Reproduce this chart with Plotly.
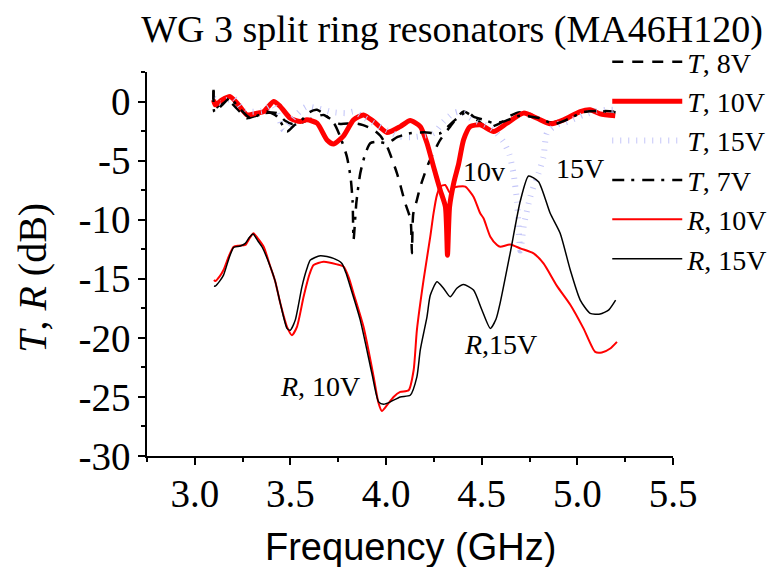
import plotly.graph_objects as go

# Transmission spectra (dB) vs frequency (GHz)
f_t8 = [3.098, 3.103, 3.168, 3.22, 3.272, 3.32, 3.36, 3.43, 3.47, 3.51, 3.551, 3.6, 3.673, 3.72,
        3.76, 3.83, 3.88, 3.935, 3.97, 4.005, 4.057, 4.1, 4.128, 4.135, 4.142, 4.161, 4.179, 4.222,
        4.283, 4.335, 4.405, 4.475, 4.53, 4.597, 4.65, 4.702, 4.76, 4.806, 4.876, 4.963, 5.05,
        5.137, 5.19]
t8 = [0.9, -0.6, 0.14, -0.6, -1.41, -1.2, -0.98, -0.98, -1.6, -1.9, -1.83, -1.5, -1.13, -1.6,
      -1.9, -1.83, -2.0, -2.4, -2.9, -3.81, -6.07, -8.6, -10.0, -12.85, -9.5, -8.33, -7.2, -5.22,
      -3.25, -2.12, -0.85, -1.55, -2.2, -1.83, -1.2, -0.9, -1.1, -1.6, -1.75, -1.27, -0.7, -0.8,
      -0.85]

f_t10 = [3.098, 3.107, 3.142, 3.185, 3.229, 3.273, 3.325, 3.36, 3.412, 3.447, 3.499, 3.551, 3.586,
         3.639, 3.691, 3.725, 3.778, 3.83, 3.882, 3.935, 4.005, 4.074, 4.126, 4.179, 4.214, 4.248,
         4.283, 4.31, 4.321, 4.332, 4.355, 4.379, 4.405, 4.44, 4.492, 4.562, 4.632, 4.719, 4.789,
         4.858, 4.928, 5.015, 5.067, 5.119, 5.198]
t10 = [0.14, -0.28, 0.14, 0.42, -0.28, -1.13, -0.98, -0.85, 0.0, -0.42, -1.41, -1.69, -1.55,
       -1.83, -3.25, -3.6, -2.9, -1.55, -1.13, -1.69, -2.62, -2.12, -1.61, -2.12, -3.53, -5.51,
       -7.5, -8.9, -13.0, -8.9, -6.8, -5.3, -3.25, -2.12, -1.97, -2.54, -1.83, -0.98, -1.41,
       -1.89, -1.55, -0.85, -0.7, -1.04, -1.21]

f_t15 = [3.098, 3.133, 3.2, 3.26, 3.35, 3.41, 3.464, 3.482, 3.52, 3.569, 3.586, 3.65, 3.72, 3.795,
         3.83, 3.88, 3.935, 4.0, 4.074, 4.15, 4.248, 4.301, 4.35, 4.388, 4.457, 4.52, 4.562, 4.614,
         4.645, 4.666, 4.685, 4.702, 4.72, 4.754, 4.771, 4.797, 4.823, 4.841, 4.893, 4.95, 5.032,
         5.1, 5.154, 5.19]
t15 = [0.3, -0.14, 0.3, -0.8, -0.8, -0.3, -2.4, -2.1, -1.3, -0.56, -0.42, -0.6, -0.9, -0.98,
       -0.85, -1.3, -1.83, -2.4, -2.97, -3.0, -2.68, -1.69, -1.0, -0.85, -1.55, -2.0, -2.4, -3.4,
       -4.5, -6.07, -8.5, -12.6, -10.5, -8.05, -7.2, -6.07, -4.66, -2.68, -1.97, -1.7, -1.13,
       -0.8, -0.7, -0.7]

f_t7 = [3.098, 3.103, 3.142, 3.185, 3.229, 3.29, 3.34, 3.377, 3.43, 3.482, 3.52, 3.551, 3.6,
        3.639, 3.691, 3.73, 3.76, 3.795, 3.815, 3.825, 3.83, 3.845, 3.865, 3.89, 3.917, 3.96,
        4.005, 4.06, 4.12, 4.2, 4.283, 4.35, 4.423, 4.457, 4.52, 4.562, 4.614, 4.7, 4.8, 4.88,
        4.95, 5.03, 5.1, 5.2]
t7 = [1.0, -0.9, -0.3, 0.3, -0.5, -1.41, -1.1, -0.85, -1.27, -2.54, -2.0, -1.69, -0.9, -0.7,
      -1.27, -1.9, -2.97, -4.66, -6.5, -8.5, -11.7, -8.5, -6.07, -4.5, -3.53, -3.4, -3.53, -3.0,
      -2.7, -2.6, -2.68, -1.7, -0.85, -1.27, -1.6, -1.83, -1.69, -1.2, -1.4, -1.9, -1.5, -0.9,
      -0.8, -0.9]

# Reflection spectra (dB) vs frequency (GHz)
f_r10 = [3.1, 3.107, 3.13, 3.15, 3.18, 3.203, 3.229, 3.264, 3.285, 3.307, 3.33, 3.36, 3.395, 3.42,
         3.447, 3.482, 3.508, 3.534, 3.569, 3.6, 3.621, 3.673, 3.743, 3.778, 3.805, 3.83, 3.882,
         3.935, 3.96, 3.978, 4.005, 4.039, 4.074, 4.118, 4.144, 4.161, 4.196, 4.231, 4.248, 4.266,
         4.283, 4.309, 4.335, 4.355, 4.379, 4.414, 4.457, 4.492, 4.51, 4.545, 4.58, 4.597, 4.649,
         4.702, 4.771, 4.823, 4.893, 4.963, 5.032, 5.093, 5.128, 5.172, 5.207]
r10 = [-15.1, -15.19, -14.8, -14.26, -13.0, -12.29, -12.2, -12.14, -11.6, -11.15, -11.6, -12.29,
       -13.98, -15.2, -17.08, -19.07, -19.77, -19.07, -16.5, -14.6, -13.84, -13.56, -13.78,
       -13.98, -14.9, -16.24, -19.07, -23.3, -25.5, -26.2, -25.7, -25.0, -24.58, -24.43, -22.74,
       -19.35, -15.1, -11.44, -9.46, -7.9, -7.2, -7.06, -7.76, -7.3, -7.2, -7.2, -8.05, -9.46,
       -9.9, -11.44, -12.14, -12.29, -12.1, -12.43, -12.85, -13.7, -15.6, -17.2, -19.2, -21.19,
       -21.24, -20.9, -20.34]

f_r15 = [3.1, 3.107, 3.13, 3.15, 3.18, 3.203, 3.238, 3.264, 3.285, 3.304, 3.33, 3.351, 3.395, 3.42,
         3.447, 3.482, 3.499, 3.525, 3.56, 3.585, 3.604, 3.656, 3.725, 3.769, 3.79, 3.813, 3.865,
         3.926, 3.961, 3.987, 4.022, 4.074, 4.126, 4.161, 4.179, 4.214, 4.231, 4.266, 4.3, 4.335,
         4.37, 4.405, 4.457, 4.5, 4.545, 4.575, 4.597, 4.649, 4.702, 4.745, 4.797, 4.858, 4.91,
         4.963, 5.015, 5.067, 5.119, 5.163, 5.2]
r15 = [-15.62, -15.62, -15.2, -14.69, -13.2, -12.34, -12.23, -12.0, -11.5, -11.21, -11.8, -12.29,
       -13.98, -15.2, -17.08, -19.2, -19.35, -18.5, -15.68, -14.2, -13.42, -13.05, -13.27, -13.7,
       -14.5, -15.68, -18.5, -23.02, -25.42, -25.62, -25.42, -25.0, -24.86, -23.3, -21.0, -18.2,
       -16.4, -15.25, -15.8, -16.52, -15.8, -15.48, -15.96, -17.6, -19.2, -18.4, -17.0, -12.8,
       -8.4, -6.3, -6.78, -9.46, -11.15, -14.26, -16.8, -17.93, -17.99, -17.65, -16.8]

y_ticks = [0, -5, -10, -15, -20, -25, -30]
y_ticktext = ["0", "-5", "-10", "-15", "-20", "-25", "-30"]
x_ticks = [3.0, 3.5, 4.0, 4.5, 5.0, 5.5]
x_ticktext = ["3.0", "3.5", "4.0", "4.5", "5.0", "5.5"]

SERIF = "Liberation Serif, Times New Roman, serif"
SANS = "Liberation Sans, Arial, sans-serif"

fig = go.Figure()
fig.add_trace(go.Scatter(x=f_t8, y=t8, mode="lines", name="<i>T</i>, 8V",
                         line=dict(color="black", width=2.5, dash="11px,9px",
                                   shape="spline", smoothing=0.6)))
fig.add_trace(go.Scatter(x=f_t10, y=t10, mode="lines", name="<i>T</i>, 10V",
                         line=dict(color="#ff0000", width=5, shape="spline", smoothing=0.6)))
fig.add_trace(go.Scatter(x=f_t15, y=t15, mode="lines", name="<i>T</i>, 15V",
                         line=dict(color="#c4c6f8", width=6, dash="1px,7px",
                                   shape="spline", smoothing=0.6)))
fig.add_trace(go.Scatter(x=f_t7, y=t7, mode="lines", name="<i>T</i>, 7V",
                         line=dict(color="black", width=2.5, dash="12px,7px,3px,8px",
                                   shape="spline", smoothing=0.6)))
fig.add_trace(go.Scatter(x=f_r10, y=r10, mode="lines", name="<i>R</i>, 10V",
                         line=dict(color="#ff0000", width=2, shape="spline", smoothing=0.6)))
fig.add_trace(go.Scatter(x=f_r15, y=r15, mode="lines", name="<i>R</i>, 15V",
                         line=dict(color="black", width=1.5, shape="spline", smoothing=0.6)))

tick_font = dict(family=SERIF, size=39, color="black")
axis_common = dict(showline=True, linecolor="black", linewidth=1.5, ticks="outside",
                   ticklen=7, tickwidth=1.5, tickcolor="black", showgrid=False,
                   zeroline=False, mirror=False, tickfont=tick_font)

fig.update_xaxes(range=[2.75, 5.5], tickmode="array", tickvals=x_ticks, ticktext=x_ticktext,
                 ticklabelstandoff=-5,
                 minor=dict(dtick=0.25, tick0=2.75, ticklen=4, tickwidth=1.5,
                            tickcolor="black", ticks="outside"),
                 **axis_common)
fig.update_yaxes(range=[-30, 2.5], tickmode="array", tickvals=y_ticks, ticktext=y_ticktext,
                 minor=dict(dtick=2.5, tick0=0, ticklen=4, tickwidth=1.5,
                            tickcolor="black", ticks="outside"),
                 **axis_common)

fig.add_annotation(x=4.513, y=-5.93, text="10v", showarrow=False,
                   font=dict(family=SERIF, size=28, color="black"))
fig.add_annotation(x=5.015, y=-5.65, text="15V", showarrow=False,
                   font=dict(family=SERIF, size=28, color="black"))
fig.add_annotation(x=3.656, y=-24.15, text="<i>R</i>, 10V", showarrow=False,
                   font=dict(family=SERIF, size=28, color="black"))
fig.add_annotation(x=4.597, y=-20.6, text="<i>R</i>,15V", showarrow=False,
                   font=dict(family=SERIF, size=28, color="black"))

# axis titles
fig.add_annotation(x=-0.219, y=0.4635, xref="paper", yref="paper",
                   text="<i>T</i>, <i>R</i> (dB)",
                   textangle=-90, showarrow=False, xanchor="center", yanchor="middle",
                   font=dict(family=SERIF, size=40, color="black"))
fig.add_annotation(x=0.5, y=-0.237, xref="paper", yref="paper", text="Frequency (GHz)",
                   showarrow=False, xanchor="center", yanchor="middle",
                   font=dict(family=SANS, size=38, color="black"))

fig.update_layout(
    width=778, height=567,
    margin=dict(l=147, r=105, t=72, b=111, autoexpand=False),
    paper_bgcolor="white", plot_bgcolor="white",
    font=dict(family=SERIF, color="black"),
    title=dict(text="WG 3 split ring resonators (MA46H120)", x=0.581, xanchor="center",
               y=0.949, yanchor="middle", font=dict(family=SERIF, size=38, color="black")),
    showlegend=True,
    legend=dict(x=0.875, y=1.091, xanchor="left", yanchor="top", bgcolor="rgba(0,0,0,0)",
                font=dict(family=SERIF, size=28, color="black"), itemwidth=70,
                tracegroupgap=0),
)

fig.write_html("out.html")
